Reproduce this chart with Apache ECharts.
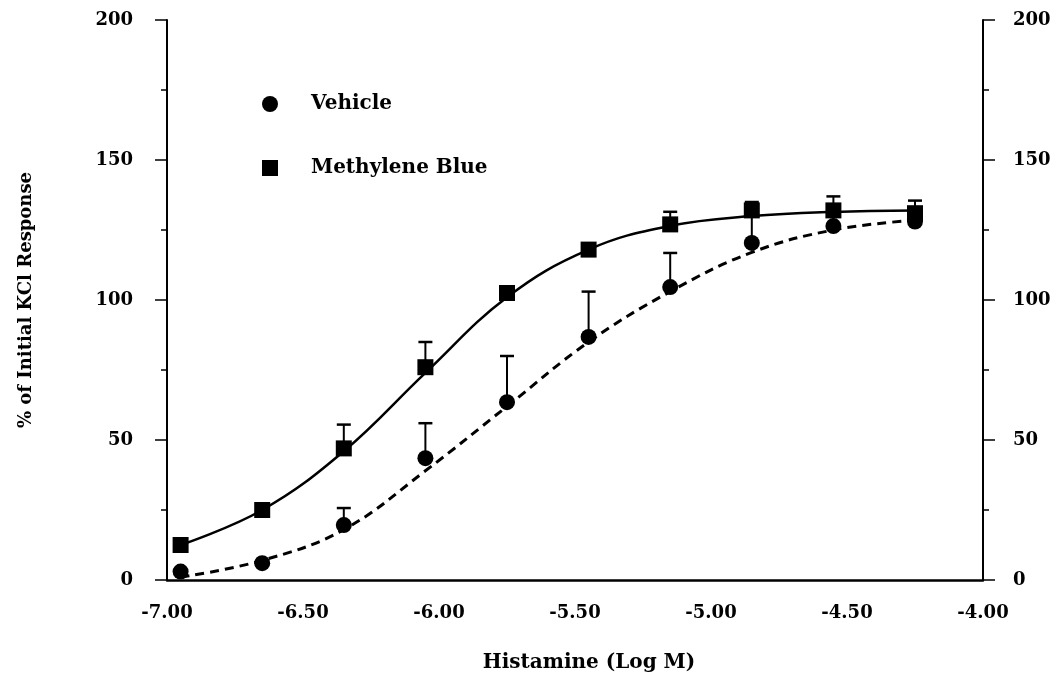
<!DOCTYPE html>
<html>
<head>
<meta charset="utf-8">
<script src="https://cdn.jsdelivr.net/npm/echarts@6/dist/echarts.min.js"></script>
<style>
html,body{margin:0;padding:0;background:#fff;}
#chart{width:1060px;height:679px;}
</style>
</head>
<body>
<div id="chart"></div>
<script>
// Histamine concentrations (Log M)
const doses = [-6.95, -6.65, -6.35, -6.05, -5.75, -5.45, -5.15, -4.85, -4.55, -4.25];
// Mean responses (% of initial KCl response)
const vehicleMean = [3, 6, 19.6, 43.5, 63.5, 86.8, 104.6, 120.4, 126.4, 128];
const mbMean = [12.5, 25, 47, 76, 102.5, 118, 127, 132, 132, 131];
// Upper error bar ends (null = no visible bar)
const vehicleErrTop = [null, null, 25.7, 56, 80, 103, 116.8, 131, 130, 131];
const mbErrTop = [null, null, 55.5, 85, null, null, 131.5, 135, 137, 135.5];
// Fitted curves at each dose
const vehicleFit = [1, 7, 18, 39, 62, 85, 103, 117, 125, 128.5];
const mbFit = [12.5, 25, 46, 74, 101, 118, 126.5, 130, 131.5, 132];
// Axis ticks
const xTicks = [-7.0, -6.5, -6.0, -5.5, -5.0, -4.5, -4.0];
const yTicks = [0, 50, 100, 150, 200];

const FONT = 'DejaVu Serif';
const pairs = (xs, ys) => xs.map((x, i) => [x, ys[i]]);
const errData = (means, tops) => doses.map((x, i) => tops[i] == null ? null : [x, means[i], tops[i]]).filter(d => d);

function errRender(params, api) {
  const x = api.value(0), lo = api.value(1), hi = api.value(2);
  const p1 = api.coord([x, lo]), p2 = api.coord([x, hi]);
  return {
    type: 'group',
    children: [
      {type: 'line', shape: {x1: p1[0], y1: p1[1], x2: p2[0], y2: p2[1]}, style: {stroke: '#000', lineWidth: 2}},
      {type: 'line', shape: {x1: p2[0] - 7, y1: p2[1], x2: p2[0] + 7, y2: p2[1]}, style: {stroke: '#000', lineWidth: 2.5}}
    ]
  };
}

const yAxisCommon = {
  type: 'value', min: 0, max: 200, interval: 50,
  splitLine: {show: false},
  axisLine: {show: true, lineStyle: {color: '#000', width: 2}},
  axisTick: {show: true, length: 12, lineStyle: {color: '#000', width: 1.5}},
  minorTick: {show: true, splitNumber: 2, length: 6, lineStyle: {color: '#000', width: 1.5}},
  minorSplitLine: {show: false},
  axisLabel: {color: '#000', fontFamily: FONT, fontWeight: 'bold', fontSize: 18, margin: 34,
    formatter: v => yTicks.includes(v) ? String(v) : ''}
};

const chart = echarts.init(document.getElementById('chart'));
chart.setOption({
  backgroundColor: '#fff',
  animation: false,
  grid: {left: 167, right: 77, top: 20, bottom: 99},
  legend: {
    orient: 'vertical', left: 257, top: 89, itemGap: 44,
    itemWidth: 16, itemHeight: 16,
    textStyle: {color: '#000', fontFamily: FONT, fontWeight: 'bold', fontSize: 20, padding: [0, 0, 0, 28]},
    data: [
      {name: 'Vehicle', icon: 'circle', itemStyle: {color: '#000', opacity: 1}},
      {name: 'Methylene Blue', icon: 'rect', itemStyle: {color: '#000', opacity: 1}}
    ]
  },
  xAxis: {
    type: 'value', min: -7, max: -4, interval: 0.5,
    name: 'Histamine (Log M)', nameLocation: 'middle', nameGap: 73,
    nameTextStyle: {color: '#000', fontFamily: FONT, fontWeight: 'bold', fontSize: 20, padding: [0, 0, 0, 28]},
    splitLine: {show: false},
    axisLine: {show: true, onZero: false, lineStyle: {color: '#000', width: 2.5}},
    axisTick: {show: false},
    axisLabel: {color: '#000', fontFamily: FONT, fontWeight: 'bold', fontSize: 18, margin: 24,
      formatter: v => v.toFixed(2)}
  },
  yAxis: [
    Object.assign({}, yAxisCommon, {
      position: 'left',
      name: '% of Initial KCl Response', nameLocation: 'middle', nameGap: 132, nameRotate: 90,
      nameTextStyle: {color: '#000', fontFamily: FONT, fontWeight: 'bold', fontSize: 18}
    }),
    Object.assign({}, yAxisCommon, {position: 'right', axisLabel: Object.assign({}, yAxisCommon.axisLabel, {margin: 30})})
  ],
  series: [
    {name: 'Methylene Blue fit', type: 'line', smooth: 0.4, symbol: 'none', data: pairs(doses, mbFit),
      lineStyle: {color: '#000', width: 2.5}, z: 2, silent: true},
    {name: 'Vehicle fit', type: 'line', smooth: 0.4, symbol: 'none', data: pairs(doses, vehicleFit),
      lineStyle: {color: '#000', width: 3, type: [9, 6]}, z: 2, silent: true},
    {name: 'Vehicle err', type: 'custom', renderItem: errRender, data: errData(vehicleMean, vehicleErrTop), z: 3},
    {name: 'Methylene Blue err', type: 'custom', renderItem: errRender, data: errData(mbMean, mbErrTop), z: 3},
    {name: 'Vehicle', type: 'scatter', symbol: 'circle', symbolSize: 16, data: pairs(doses, vehicleMean),
      itemStyle: {color: '#000', opacity: 1}, z: 5},
    {name: 'Methylene Blue', type: 'scatter', symbol: 'rect', symbolSize: 16, data: pairs(doses, mbMean),
      itemStyle: {color: '#000', opacity: 1}, z: 6}
  ]
});
</script>
</body>
</html>
